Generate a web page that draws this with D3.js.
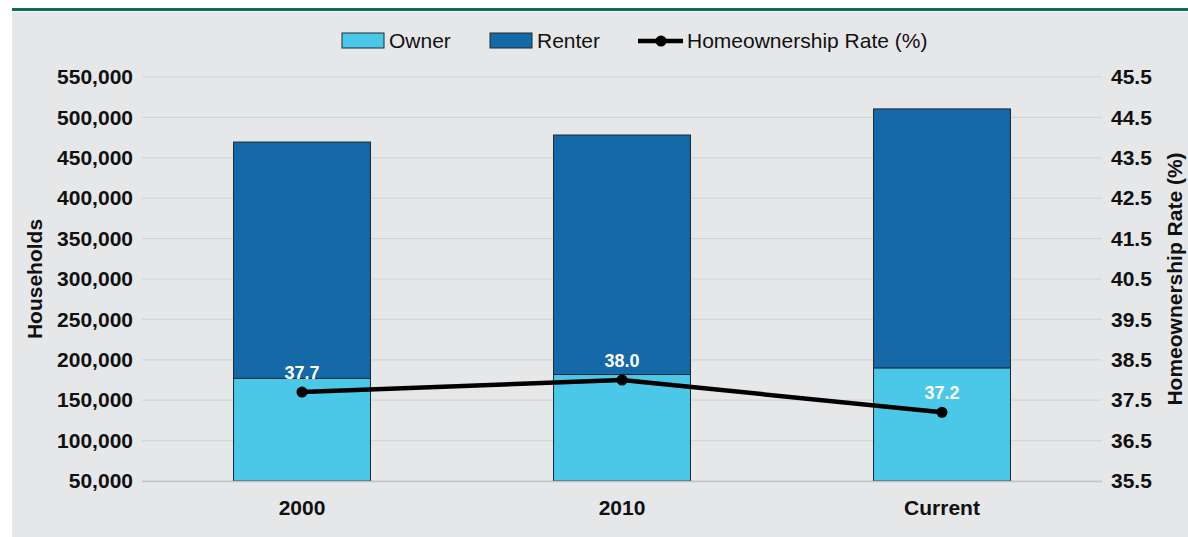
<!DOCTYPE html>
<html>
<head>
<meta charset="utf-8">
<script src="https://cdn.jsdelivr.net/npm/d3@7"></script>
<style>
  html, body { margin: 0; padding: 0; background: #fff; }
  svg { display: block; font-family: 'Liberation Sans', Arial, sans-serif; }
</style>
</head>
<body>
<svg id="chart" width="1188" height="537"></svg>
<script>
const categories = ['2000', '2010', 'Current']
const owner = [177000, 181800, 190000]
const renter = [292500, 296400, 320500]
const rate = [37.7, 38.0, 37.2]
const leftTicks = [50000, 100000, 150000, 200000, 250000, 300000, 350000, 400000, 450000, 500000, 550000]
const rightTicks = [35.5, 36.5, 37.5, 38.5, 39.5, 40.5, 41.5, 42.5, 43.5, 44.5, 45.5]

const W = 1188, H = 537
const M = { top: 77, bottom: 481, left: 142, right: 1102 }
const OWNER_C = '#4bc7e8', RENTER_C = '#1469a6', BG = '#e6e7e9'

const svg = d3.select('#chart')

// panel + green rule at top
svg.append('rect').attr('x', 0).attr('y', 0).attr('width', W).attr('height', H).attr('fill', '#fff')
svg.append('rect').attr('x', 12).attr('y', 12).attr('width', W - 12).attr('height', H - 12).attr('fill', BG)
svg.append('rect').attr('x', 12).attr('y', 8).attr('width', W - 12).attr('height', 3).attr('fill', '#0f6b5a')

const x = d3.scaleBand().domain(categories).range([M.left, M.right]).paddingInner(0.572).paddingOuter(0.286)
const y = d3.scaleLinear().domain([50000, 550000]).range([M.bottom, M.top])
const y2 = d3.scaleLinear().domain([35.5, 45.5]).range([M.bottom, M.top])
const yMin = y.domain()[0]

// grid
svg.append('g').selectAll('line').data(leftTicks).join('line')
  .attr('x1', M.left).attr('x2', M.right)
  .attr('y1', d => y(d)).attr('y2', d => y(d))
  .attr('stroke', '#d5d5d5').attr('stroke-width', 1.2)

// left axis
const gL = svg.append('g').attr('transform', `translate(${M.left},0)`)
  .call(d3.axisLeft(y).tickValues(leftTicks).tickSize(0).tickPadding(9).tickFormat(d3.format(',d')))
gL.select('.domain').remove()
gL.selectAll('text').attr('font-size', 21).attr('font-weight', 'bold').attr('fill', '#111').attr('font-family', 'Liberation Sans, Arial, sans-serif')

// right axis
const gR = svg.append('g').attr('transform', `translate(${M.right},0)`)
  .call(d3.axisRight(y2).tickValues(rightTicks).tickSize(0).tickPadding(9).tickFormat(d3.format('.1f')))
gR.select('.domain').remove()
gR.selectAll('text').attr('font-size', 21).attr('font-weight', 'bold').attr('fill', '#111').attr('font-family', 'Liberation Sans, Arial, sans-serif')

// stacked bars (axis starts at 50,000, so bars are cut at the bottom)
const stackData = categories.map((c, i) => ({ cat: c, owner: owner[i], renter: renter[i] }))
const series = d3.stack().keys(['owner', 'renter'])(stackData)
const colors = { owner: OWNER_C, renter: RENTER_C }
svg.append('g').selectAll('g').data(series).join('g')
  .attr('fill', s => colors[s.key])
  .selectAll('rect').data(s => s).join('rect')
  .attr('x', d => x(d.data.cat))
  .attr('width', x.bandwidth())
  .attr('y', d => y(d[1]))
  .attr('height', d => y(Math.max(d[0], yMin)) - y(d[1]))
  .attr('stroke', '#1c2a33').attr('stroke-width', 1)

// baseline
svg.append('line').attr('x1', M.left).attr('x2', M.right)
  .attr('y1', y(yMin) + 0.5).attr('y2', y(yMin) + 0.5)
  .attr('stroke', '#c4c4c4').attr('stroke-width', 1.5)

// x labels
svg.append('g').selectAll('text').data(categories).join('text')
  .attr('x', d => x(d) + x.bandwidth() / 2).attr('y', 515)
  .attr('text-anchor', 'middle').attr('font-size', 21).attr('font-weight', 'bold').attr('fill', '#111')
  .text(d => d)

// rate line
const pts = categories.map((c, i) => [x(c) + x.bandwidth() / 2, y2(rate[i])])
svg.append('path').attr('d', d3.line()(pts))
  .attr('fill', 'none').attr('stroke', '#000').attr('stroke-width', 4.5)
svg.append('g').selectAll('circle').data(pts).join('circle')
  .attr('cx', d => d[0]).attr('cy', d => d[1]).attr('r', 5.5).attr('fill', '#000')
svg.append('g').selectAll('text').data(pts).join('text')
  .attr('x', d => d[0]).attr('y', d => d[1] - 13)
  .attr('text-anchor', 'middle').attr('font-size', 18).attr('font-weight', 'bold').attr('fill', '#fff')
  .text((d, i) => rate[i].toFixed(1))

// axis titles
svg.append('text').attr('transform', `translate(42,${(M.top + M.bottom) / 2}) rotate(-90)`)
  .attr('text-anchor', 'middle').attr('font-size', 21).attr('font-weight', 'bold').attr('fill', '#111')
  .text('Households')
svg.append('text').attr('transform', `translate(1182,${(M.top + M.bottom) / 2}) rotate(-90)`)
  .attr('text-anchor', 'middle').attr('font-size', 21).attr('font-weight', 'bold').attr('fill', '#111')
  .text('Homeownership Rate (%)')

// legend
const lg = svg.append('g').attr('font-size', 21).attr('fill', '#111')
lg.append('rect').attr('x', 342).attr('y', 33).attr('width', 42).attr('height', 15).attr('fill', OWNER_C).attr('stroke', '#1c2a33')
lg.append('text').attr('x', 389).attr('y', 48).text('Owner')
lg.append('rect').attr('x', 490).attr('y', 33).attr('width', 42).attr('height', 15).attr('fill', RENTER_C).attr('stroke', '#1c2a33')
lg.append('text').attr('x', 537).attr('y', 48).text('Renter')
lg.append('line').attr('x1', 638).attr('x2', 683).attr('y1', 41).attr('y2', 41).attr('stroke', '#000').attr('stroke-width', 4.5)
lg.append('circle').attr('cx', 661).attr('cy', 41).attr('r', 5.5).attr('fill', '#000')
lg.append('text').attr('x', 687).attr('y', 48).text('Homeownership Rate (%)')
</script>
</body>
</html>
